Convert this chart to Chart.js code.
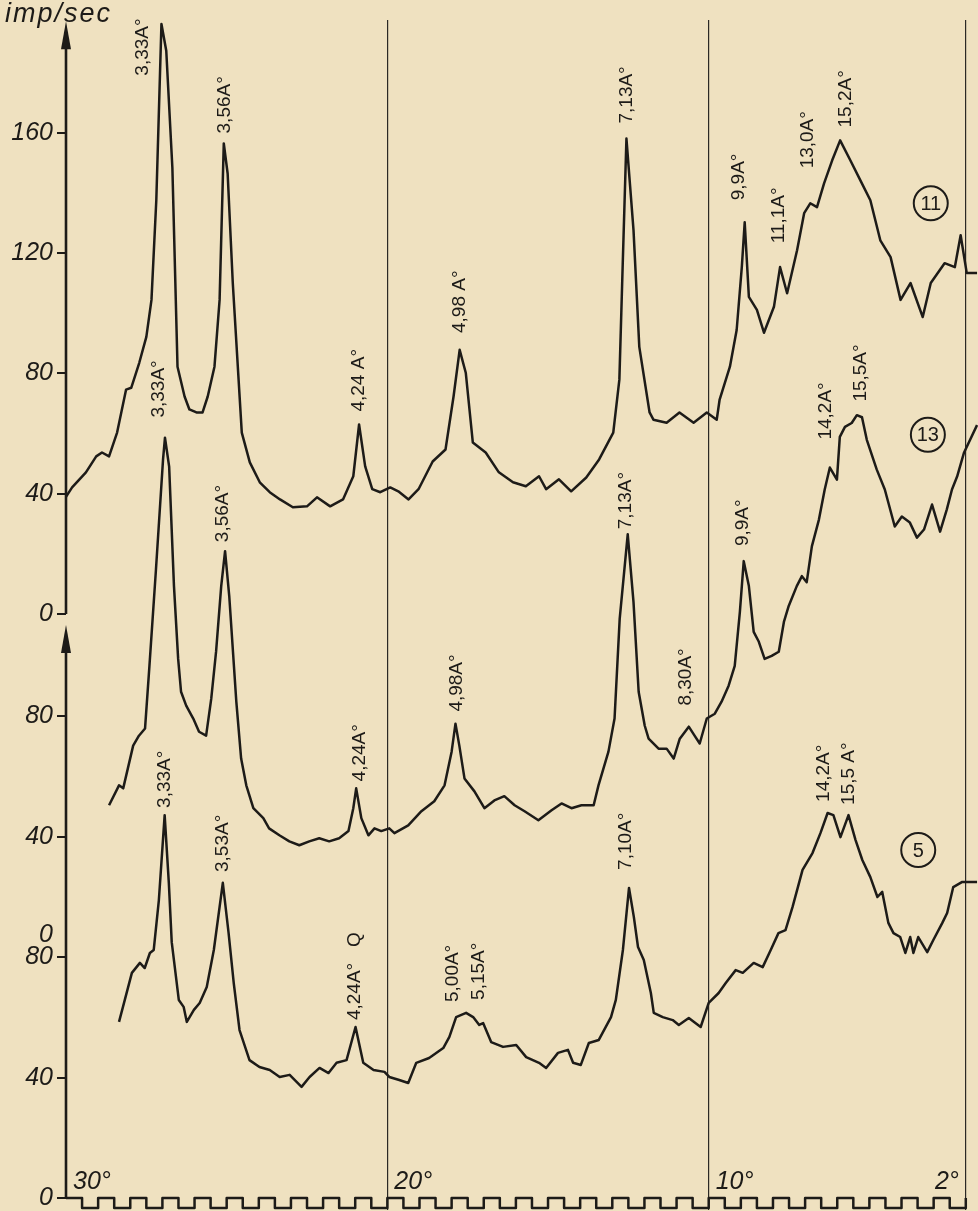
<!DOCTYPE html>
<html>
<head>
<meta charset="utf-8">
<script src="https://cdn.jsdelivr.net/npm/chart.js@4.4.1/dist/chart.umd.min.js"></script>
<style>
  html, body { margin: 0; padding: 0; background: #efe1c0; }
  canvas { display: block; }
</style>
</head>
<body>
<canvas id="xrd" width="978" height="1211"></canvas>
<script>
const PAPER = "#efe1c0";
const INK = "#1d1b18";

// vertical offsets of the three stacked traces (imp/sec units on the shared scale)
const OFFSET = { top: 194, mid: 80, bot: 0 };

// sample 11 (top)
const topDeg = [30, 29.81, 29.38, 29.06, 28.88, 28.66, 28.41, 28.13, 27.97, 27.72, 27.5, 27.34, 27.19, 27.03, 26.88, 26.69, 26.53, 26.31, 26.16, 25.94, 25.75, 25.59, 25.38, 25.22, 25.09, 24.97, 24.81, 24.53, 24.28, 23.97, 23.66, 23.34, 22.94, 22.5, 22.19, 21.78, 21.38, 21.06, 20.88, 20.69, 20.47, 20.22, 19.91, 19.66, 19.34, 19.03, 18.59, 18.19, 17.94, 17.75, 17.56, 17.34, 16.94, 16.53, 16.09, 15.69, 15.28, 15.06, 14.66, 14.28, 13.81, 13.41, 12.97, 12.78, 12.69, 12.56, 12.34, 12.16, 11.84, 11.72, 11.31, 10.91, 10.47, 10.06, 9.75, 9.66, 9.34, 9.13, 8.97, 8.88, 8.75, 8.5, 8.28, 7.97, 7.78, 7.56, 7.25, 7.03, 6.84, 6.63, 6.41, 6.16, 5.91, 5.59, 5.28, 4.97, 4.66, 4.34, 4.03, 3.72, 3.34, 3.09, 2.66, 2.34, 2.16, 1.97, 1.65];
const topImp = [39, 42.1, 47.1, 52.4, 53.7, 52.4, 60.3, 74.6, 75.2, 83.5, 92.1, 104.4, 137.5, 196.1, 187.2, 148.4, 82.2, 72.3, 68.0, 67.0, 67.0, 72.3, 82.2, 104.4, 156.4, 146.4, 110.0, 60.3, 50.4, 43.8, 40.5, 38.1, 35.5, 35.8, 38.8, 35.8, 38.1, 45.8, 63.0, 49.1, 41.5, 40.5, 42.1, 40.8, 38.1, 41.5, 50.7, 54.7, 72.3, 87.8, 80.2, 57.0, 53.7, 47.1, 43.8, 42.5, 45.8, 41.5, 44.8, 40.8, 45.4, 51.4, 60.3, 77.9, 111.0, 158.0, 127.6, 88.8, 67.0, 64.6, 63.6, 67.0, 63.6, 67.0, 64.6, 71.3, 82.2, 94.4, 115.3, 130.2, 105.4, 101.1, 93.5, 102.1, 115.3, 106.6, 120.9, 133.2, 136.5, 135.2, 143.1, 150.7, 157.4, 150.7, 144.1, 137.5, 124.2, 118.6, 104.4, 110.0, 98.7, 110.0, 116.6, 115.3, 125.9, 113.3, 113.3];

// sample 13 (middle)
const midDeg = [28.66, 28.35, 28.22, 27.91, 27.73, 27.54, 27.41, 27.2, 26.98, 26.92, 26.79, 26.64, 26.51, 26.42, 26.26, 26.04, 25.86, 25.64, 25.48, 25.33, 25.17, 25.05, 24.92, 24.7, 24.55, 24.39, 24.17, 23.86, 23.68, 23.36, 23.05, 22.74, 22.43, 22.12, 21.81, 21.5, 21.21, 21.06, 20.97, 20.81, 20.59, 20.4, 20.19, 19.94, 19.78, 19.35, 18.94, 18.54, 18.22, 18.0, 17.88, 17.76, 17.6, 17.29, 16.98, 16.67, 16.36, 16.04, 15.73, 15.3, 14.89, 14.58, 14.27, 13.96, 13.58, 13.43, 13.12, 12.93, 12.77, 12.52, 12.34, 12.18, 11.99, 11.87, 11.56, 11.31, 11.09, 10.9, 10.62, 10.44, 10.28, 10.06, 9.81, 9.6, 9.38, 9.19, 9.03, 8.91, 8.75, 8.6, 8.44, 8.26, 8.04, 7.82, 7.66, 7.51, 7.26, 7.1, 6.95, 6.79, 6.57, 6.39, 6.23, 6.01, 5.92, 5.76, 5.55, 5.39, 5.23, 5.08, 4.77, 4.52, 4.21, 3.99, 3.74, 3.52, 3.3, 3.05, 2.8, 2.59, 2.43, 2.27, 2.06, 1.65];
const midImp = [50.5, 57.1, 56.1, 70.3, 73.6, 76.0, 95.8, 128.9, 165.4, 172.6, 163.0, 123.3, 99.1, 88.2, 83.6, 79.3, 74.9, 73.6, 85.9, 101.5, 123.3, 134.9, 120.0, 84.9, 66.0, 57.1, 49.5, 46.2, 42.8, 40.5, 38.5, 37.2, 38.5, 39.5, 38.5, 39.5, 41.9, 49.5, 56.1, 46.2, 40.5, 42.8, 41.9, 42.8, 41.2, 43.8, 48.5, 51.8, 57.1, 68.3, 77.6, 70.3, 59.4, 55.1, 49.5, 52.1, 53.5, 50.5, 48.5, 45.5, 48.8, 51.1, 49.5, 50.5, 50.5, 57.1, 68.3, 79.3, 112.4, 140.5, 118.0, 88.2, 76.9, 72.6, 69.3, 69.3, 66.0, 72.6, 76.6, 73.6, 71.0, 79.3, 80.9, 84.9, 90.2, 96.8, 114.7, 131.6, 123.3, 108.1, 104.8, 99.1, 100.1, 101.5, 111.4, 116.7, 123.3, 126.6, 124.6, 136.5, 145.4, 155.4, 162.7, 158.7, 172.9, 176.2, 177.5, 180.1, 179.4, 171.9, 162.0, 155.4, 143.1, 146.4, 144.4, 139.4, 142.1, 150.4, 141.4, 148.8, 155.4, 159.7, 167.5, 176.8];

// sample 5 (bottom)
const botDeg = [28.35, 28.17, 27.95, 27.7, 27.55, 27.39, 27.27, 27.11, 26.93, 26.8, 26.71, 26.49, 26.34, 26.24, 26.02, 25.84, 25.62, 25.4, 25.12, 24.94, 24.78, 24.6, 24.29, 23.98, 23.66, 23.35, 23.04, 22.67, 22.42, 22.11, 21.83, 21.58, 21.27, 20.99, 20.75, 20.43, 20.09, 19.94, 19.63, 19.35, 19.1, 18.7, 18.26, 18.07, 17.86, 17.55, 17.33, 17.14, 17.02, 16.77, 16.4, 15.99, 15.68, 15.28, 15.06, 14.69, 14.38, 14.22, 13.98, 13.73, 13.42, 13.04, 12.89, 12.67, 12.48, 12.33, 12.2, 12.02, 11.8, 11.71, 11.43, 11.12, 10.93, 10.62, 10.25, 10.0, 9.69, 9.47, 9.16, 8.94, 8.6, 8.32, 8.07, 7.83, 7.61, 7.39, 7.08, 6.77, 6.52, 6.3, 6.12, 5.9, 5.65, 5.43, 5.22, 4.97, 4.75, 4.6, 4.41, 4.25, 4.04, 3.88, 3.73, 3.63, 3.48, 3.2, 3.01, 2.73, 2.58, 2.39, 2.11, 1.65];
const botImp = [58.5, 65.8, 74.8, 78.1, 76.4, 81.4, 82.4, 99.0, 127.2, 104.7, 85.0, 65.8, 63.5, 58.5, 62.5, 64.8, 70.1, 82.4, 104.7, 88.0, 71.4, 55.8, 45.8, 43.5, 42.5, 40.2, 40.9, 36.9, 40.2, 43.2, 41.5, 44.9, 45.8, 56.8, 44.9, 42.5, 41.9, 40.2, 39.2, 38.2, 44.9, 46.5, 49.8, 53.5, 60.1, 61.5, 60.1, 57.5, 58.1, 51.8, 50.2, 50.8, 46.8, 44.9, 43.2, 48.2, 49.2, 44.9, 44.2, 51.5, 52.5, 60.1, 65.8, 82.4, 103.0, 93.4, 83.4, 79.1, 68.1, 61.5, 60.1, 59.1, 57.5, 59.8, 56.8, 64.8, 68.1, 71.4, 75.7, 74.8, 78.1, 76.7, 82.4, 88.0, 89.0, 96.7, 109.0, 114.6, 121.3, 127.9, 127.2, 119.9, 127.2, 118.9, 112.3, 106.6, 100.0, 101.7, 91.4, 88.0, 86.7, 81.4, 86.7, 81.4, 86.7, 81.7, 85.7, 91.4, 94.7, 103.3, 105.0, 105.0];

// goniometer timing marks along the bottom
const markDeg = [30, 29.5, 29, 28.5, 28, 27.5, 27, 26.5, 26, 25.5, 25, 24.5, 24, 23.5, 23, 22.5, 22, 21.5, 21, 20.5, 20, 19.5, 19, 18.5, 18, 17.5, 17, 16.5, 16, 15.5, 15, 14.5, 14, 13.5, 13, 12.5, 12, 11.5, 11, 10.5, 10, 9.5, 9, 8.5, 8, 7.5, 7, 6.5, 6, 5.5, 5, 4.5, 4, 3.5, 3, 2.5, 2];
const markLevel = [0, -3.3, 0, -3.3, 0, -3.3, 0, -3.3, 0, -3.3, 0, -3.3, 0, -3.3, 0, -3.3, 0, -3.3, 0, -3.3, 0, -3.3, 0, -3.3, 0, -3.3, 0, -3.3, 0, -3.3, 0, -3.3, 0, -3.3, 0, -3.3, 0, -3.3, 0, -3.3, 0, -3.3, 0, -3.3, 0, -3.3, 0, -3.3, 0, -3.3, 0, -3.3, 0, -3.3, 0, -3.3, 0];

const gridDeg = [20, 10, 2];
const yTicks = [0, 40, 80, 120, 160, 194, 234, 274, 314, 354];
const yTickLabels = ["0", "40", ["0", "80", ""], "40", "80", "0", "40", "80", "120", "160"];
// [from, arrow tip] of the two axis pieces
const axisPieces = [[194, 391], [0, 190.4]];

const peakLabels = [
  ["top", 27.61, 178.9, "3,33A°"],
  ["top", 25.06, 159.7, "3,56A°"],
  ["top", 20.88, 67.3, "4,24 A°"],
  ["top", 17.75, 93.4, "4,98 A°"],
  ["top", 12.56, 163.0, "7,13A°"],
  ["top", 9.06, 137.5, "9,9A°"],
  ["top", 7.81, 123.2, "11,1A°"],
  ["top", 6.91, 148.1, "13,0A°"],
  ["top", 5.75, 161.7, "15,2A°"],
  ["mid", 27.1, 179.3, "3,33A°"],
  ["mid", 25.11, 137.9, "3,56A°"],
  ["mid", 20.87, 58.4, "4,24A°"],
  ["mid", 17.85, 81.6, "4,98A°"],
  ["mid", 12.59, 142.2, "7,13A°"],
  ["mid", 10.72, 83.6, "8,30A°"],
  ["mid", 8.94, 136.6, "9,9A°"],
  ["mid", 6.36, 172.0, "14,2A°"],
  ["mid", 5.26, 184.6, "15,5A°"],
  ["bot", 26.93, 129.6, "3,33A°"],
  ["bot", 25.12, 108.3, "3,53A°"],
  ["bot", 21.02, 59.1, "4,24A°   Q"],
  ["bot", 17.98, 65.1, "5,00A°"],
  ["bot", 17.14, 65.8, "5,15A°"],
  ["bot", 12.58, 109.0, "7,10A°"],
  ["bot", 6.43, 131.6, "14,2A°"],
  ["bot", 5.65, 130.6, "15,5 A°"],
];
const sampleTags = [["top", 3.09, 136.5, "11"], ["mid", 3.18, 173.6, "13"], ["bot", 3.48, 115.6, "5"]];
const degLabels = [[30, "30°", 1], [20, "20°", 1], [10, "10°", 1], [2, "2°", -1]];

const toPoints = (xs, ys, off) => xs.map((x, i) => ({ x, y: ys[i] + off }));

const trace = (data) => ({
  data, borderColor: INK, borderWidth: 2.5, pointRadius: 0, tension: 0,
  borderJoinStyle: "round", fill: false,
});

const paper = {
  id: "paper",
  beforeDraw(chart) {
    const { ctx, width, height } = chart;
    ctx.save();
    ctx.fillStyle = PAPER;
    ctx.fillRect(0, 0, width, height);
    ctx.restore();
  },
};

const decor = {
  id: "decor",
  afterDraw(chart) {
    const { ctx, scales: { x, y } } = chart;
    const ax = x.getPixelForValue(30);
    ctx.save();
    ctx.strokeStyle = INK;
    ctx.fillStyle = INK;
    ctx.lineWidth = 2.6;
    for (const [from, tip] of axisPieces) {
      const y0 = y.getPixelForValue(from), y1 = y.getPixelForValue(tip);
      ctx.beginPath(); ctx.moveTo(ax, y0); ctx.lineTo(ax, y1 + 20); ctx.stroke();
      ctx.beginPath(); ctx.moveTo(ax, y1); ctx.lineTo(ax - 5, y1 + 28); ctx.lineTo(ax + 5, y1 + 28); ctx.closePath(); ctx.fill();
    }

    ctx.font = 'italic 27px "Liberation Sans", Arial, sans-serif';
    ctx.textBaseline = "alphabetic";
    ctx.textAlign = "left";
    ctx.letterSpacing = "2px";
    ctx.fillText("imp/sec", 5, 22);
    ctx.letterSpacing = "0px";

    ctx.font = 'italic 25px "Liberation Sans", Arial, sans-serif';
    for (const [deg, text, side] of degLabels) {
      ctx.textAlign = side > 0 ? "left" : "right";
      ctx.fillText(text, x.getPixelForValue(deg) + side * 7, y.getPixelForValue(3));
    }

    ctx.font = '19px "Liberation Sans", Arial, sans-serif';
    ctx.textAlign = "left";
    ctx.textBaseline = "middle";
    for (const [s, deg, at, text] of peakLabels) {
      ctx.save();
      ctx.translate(x.getPixelForValue(deg), y.getPixelForValue(at + OFFSET[s]));
      ctx.rotate(-Math.PI / 2);
      ctx.fillText(text, 0, 0);
      ctx.restore();
    }

    ctx.font = '20px "Liberation Sans", Arial, sans-serif';
    ctx.textAlign = "center";
    ctx.lineWidth = 2;
    for (const [s, deg, at, text] of sampleTags) {
      const cx = x.getPixelForValue(deg), cy = y.getPixelForValue(at + OFFSET[s]);
      ctx.beginPath(); ctx.arc(cx, cy, 17, 0, Math.PI * 2); ctx.stroke();
      ctx.fillText(text, cx, cy + 1);
    }
    ctx.restore();
  },
};

new Chart(document.getElementById("xrd"), {
  type: "line",
  data: {
    datasets: [
      trace(toPoints(topDeg, topImp, OFFSET.top)),
      trace(toPoints(midDeg, midImp, OFFSET.mid)),
      trace(toPoints(botDeg, botImp, OFFSET.bot)),
      { ...trace(toPoints(markDeg, markLevel, 0)), stepped: true },
    ],
  },
  options: {
    responsive: false,
    animation: false,
    devicePixelRatio: 1,
    layout: { padding: { top: 20, right: 0, bottom: 1, left: 0 } },
    plugins: { legend: { display: false }, tooltip: { enabled: false } },
    scales: {
      x: {
        type: "linear",
        reverse: true,
        min: 1.62,
        max: 30,
        afterBuildTicks: (s) => { s.ticks = gridDeg.map((v) => ({ value: v })); },
        afterFit: (s) => { s.height = 0; s.paddingLeft = 0; s.paddingRight = 0; },
        ticks: { display: false },
        grid: { color: "#2b2824", lineWidth: 1.2, drawTicks: false },
        border: { display: false },
      },
      y: {
        min: -4,
        max: 391.4,
        afterBuildTicks: (s) => { s.ticks = yTicks.map((v) => ({ value: v })); },
        afterFit: (s) => { s.width = 66; s.paddingTop = 0; s.paddingBottom = 0; },
        ticks: {
          autoSkip: false,
          padding: 4,
          color: INK,
          font: { family: '"Liberation Sans", Arial, sans-serif', size: 25, style: "italic", lineHeight: 0.9 },
          callback: (v, i) => yTickLabels[i],
        },
        grid: { drawOnChartArea: false, drawTicks: true, tickLength: 9, color: INK, lineWidth: 2 },
        border: { display: false },
      },
    },
  },
  plugins: [paper, decor],
});
</script>
</body>
</html>
